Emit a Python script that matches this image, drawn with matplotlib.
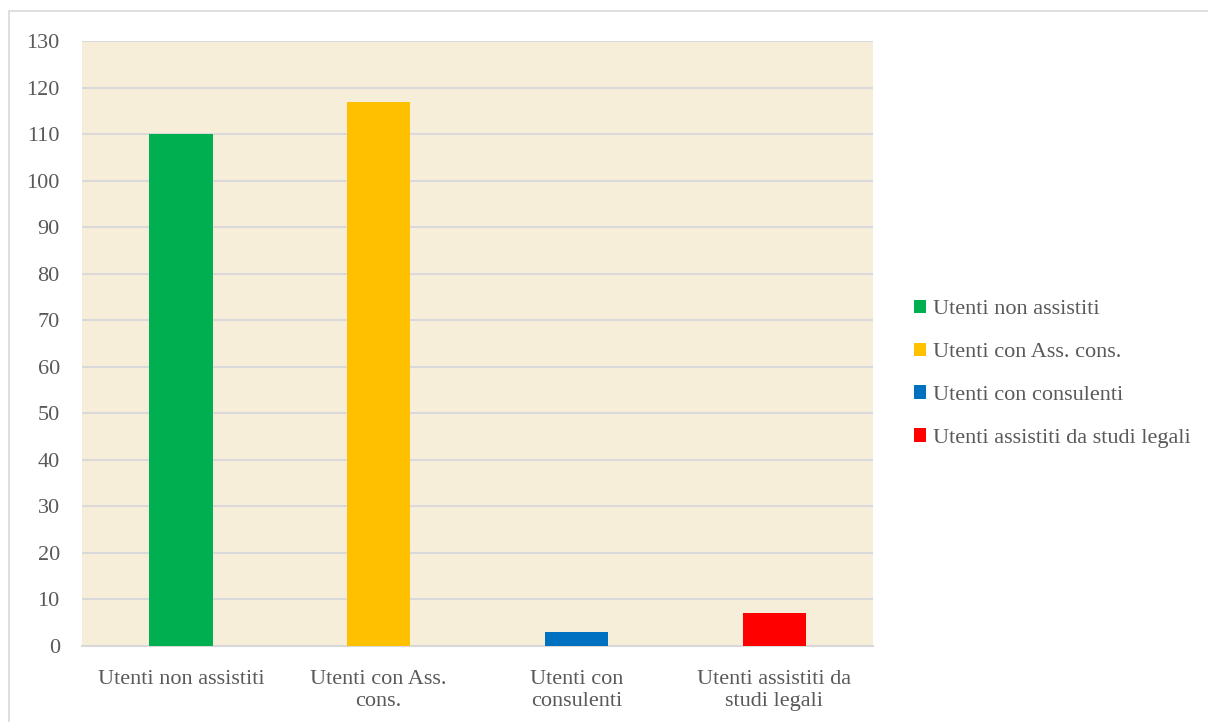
import matplotlib
matplotlib.use('Agg')
import matplotlib.pyplot as plt
from matplotlib.patches import Rectangle

# data
categories = ['Utenti non assistiti', 'Utenti con Ass.\ncons.', 'Utenti con\nconsulenti',
              'Utenti assistiti da\nstudi legali']
legend_labels = ['Utenti non assistiti', 'Utenti con Ass. cons.', 'Utenti con consulenti',
                 'Utenti assistiti da studi legali']
values = [110, 117, 3, 7]
colors = ['#00B050', '#FFC000', '#0070C0', '#FF0000']

text_color = '#595959'
plt.rcParams['font.family'] = ['Liberation Serif', 'DejaVu Serif']

fig = plt.figure(figsize=(12.08, 7.22), dpi=100)
ax = fig.add_axes([0.0679, 0.1053, 0.6548, 0.8379])
ax.set_facecolor('#F7EED9')

# outer chart border
fig.patches.append(Rectangle((9 / 1208, -0.01), 1.02, 1 - 11 / 722 + 0.01, transform=fig.transFigure,
                             fill=False, edgecolor='#D9D9D9', linewidth=1.2))

x = range(len(values))
bars = ax.bar(x, values, width=0.32, color=colors, zorder=3)

ax.set_xlim(-0.5, len(values) - 0.5)
ax.set_ylim(0, 130)
ax.set_yticks(range(0, 131, 10))
ax.set_xticks(list(x))
ax.set_xticklabels(categories, fontsize=16, color=text_color, linespacing=1.25)
ax.tick_params(axis='y', labelsize=16, labelcolor=text_color, length=0, pad=16)
ax.tick_params(axis='x', length=0, pad=17)
ax.grid(axis='y', color='#D9D9D9', linewidth=1.5, zorder=0)
for s in ['top', 'right', 'left']:
    ax.spines[s].set_visible(False)
ax.spines['bottom'].set_color('#D9D9D9')
ax.spines['bottom'].set_linewidth(1.5)

leg = ax.legend(bars, legend_labels, loc='center left', bbox_to_anchor=(1.052, 0.45), frameon=False,
                fontsize=16, handlelength=0.55, handleheight=0.55, handletextpad=0.3,
                labelspacing=1.05, borderpad=0, borderaxespad=0)
for t in leg.get_texts():
    t.set_color(text_color)

fig.savefig('out.png', dpi=100)
